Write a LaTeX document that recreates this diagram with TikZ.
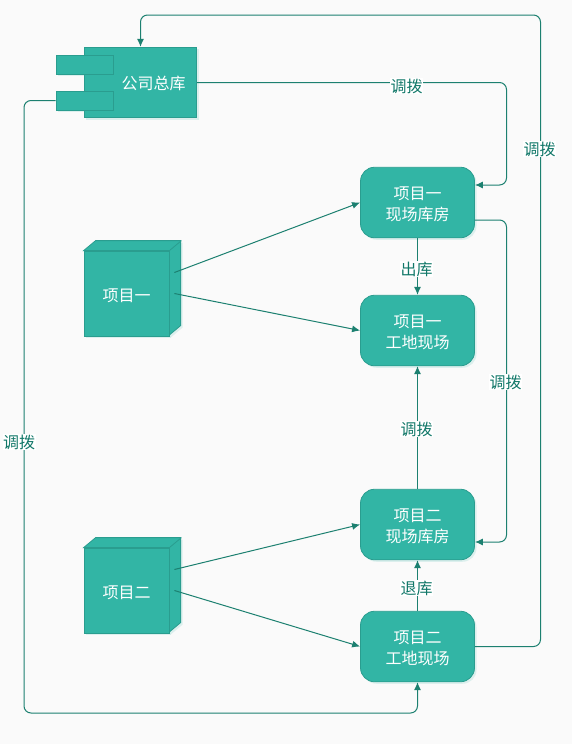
\documentclass[tikz,border=0pt]{standalone}
\usepackage{fontspec}
\setmainfont{Liberation Sans}
\newfontfamily\cjk{Noto Sans CJK SC}
\usepackage{xcolor}
\usetikzlibrary{arrows.meta,calc,shadows,backgrounds}
\definecolor{pagebg}{RGB}{250,250,250}
\definecolor{tealfill}{RGB}{50,181,165}
\definecolor{tealedge}{RGB}{42,157,143}
\definecolor{tealline}{RGB}{28,128,112}
\definecolor{tealtext}{RGB}{18,120,105}
\tikzset{
    tealbox/.style={draw=tealedge,fill=tealfill,line width=0.8pt,
        general shadow={fill=tealfill,opacity=0.15,shadow xshift=2pt,shadow yshift=-2pt},
        inner sep=0pt},
    boxtext/.style={label={[text=white,font=\cjk\fontsize{16}{21}\selectfont,align=center,inner sep=0pt,yshift=-2pt]center:#1}},
    roombox/.style={tealbox,rounded corners=14pt,minimum width=114pt,minimum height=70.5pt},
    cubebox/.style={tealbox,minimum width=85pt,minimum height=85pt},
    tabbox/.style={tealbox,minimum width=57pt,minimum height=19pt},
    link/.style={draw=tealline,line width=1pt,rounded corners=7pt,-{Latex[length=8pt,width=7pt]}},
    linklabel/.style={fill=white,text=tealtext,font=\cjk\fontsize{16}{18}\selectfont,inner sep=0.5pt}
}
\begin{document}
\begin{tikzpicture}[x=1pt,y=-1pt]
    \begin{scope}[on background layer]
        \fill[pagebg] (0,0) rectangle (572,744);
    \end{scope}

    \node[tealbox,minimum width=112.5pt,minimum height=70.5pt] (store) at (140.5,82.5) {};
    \node[text=white,font=\cjk\fontsize{16}{21}\selectfont,inner sep=0pt] (storetext) at (153.5,83) {公司总库};
    \node[tabbox] (tabone) at (84.5,64.5) {};
    \node[tabbox] (tabtwo) at (84.5,100.5) {};

    \node[cubebox,boxtext={项目一}] (cubeone) at (126.5,293.5) {};
    \node[cubebox,boxtext={项目二}] (cubetwo) at (126.5,590.5) {};
    \foreach \cubename in {cubeone,cubetwo}{
        \begin{scope}[on background layer]
            \draw[tealbox] (\cubename.north west) -- ++(12,-10) -- ++(85,0) -- ++(0,85) -- ++(-12,10)
                -- (\cubename.north east) -- cycle;
        \end{scope}
        \draw[draw=tealedge,line width=0.8pt] (\cubename.north east) -- ++(12,-10);
    }

    \node[roombox,boxtext={项目一\\现场库房}] (roomone) at (417.5,202.5) {};
    \node[roombox,boxtext={项目一\\工地现场}] (siteone) at (417.5,330.5) {};
    \node[roombox,boxtext={项目二\\现场库房}] (roomtwo) at (417.5,524.5) {};
    \node[roombox,boxtext={项目二\\工地现场}] (sitetwo) at (417.5,646.5) {};

    \draw[link] ([shift={(5pt,21pt)}]cubeone.east) -- (roomone.west);
    \draw[link] ([xshift=5pt]cubeone.east) -- (siteone.west);
    \draw[link] ([shift={(5pt,21pt)}]cubetwo.east) -- (roomtwo.west);
    \draw[link] ([xshift=5pt]cubetwo.east) -- (sitetwo.west);

    \draw[link] (roomone.south) -- (siteone.north);
    \draw[link] (roomtwo.north) -- (siteone.south);
    \draw[link] (sitetwo.north) -- (roomtwo.south);

    \draw[link] (store.east) -- (506.5,82.5) -- (506.5,185) -- ([yshift=17.5pt]roomone.east);
    \draw[link] ([yshift=-17.5pt]roomone.east) -- (506.5,220) -- (506.5,542) -- ([yshift=-17.5pt]roomtwo.east);
    \draw[link] (sitetwo.east) -- (540.5,646.5) -- (540.5,15) -- (140.5,15) -- (store.north);
    \draw[link] (tabtwo.west) -- (24,100.5) -- (24,713) -- (417.5,713) -- (sitetwo.south);

    \node[linklabel] (lblstore) at (406.5,86) {调拨};
    \node[linklabel] (lblback) at (539.5,149) {调拨};
    \node[linklabel] (lblside) at (505.5,382) {调拨};
    \node[linklabel] (lblleft) at (19,442) {调拨};
    \node[linklabel] (lblout) at (416.5,269) {出库};
    \node[linklabel] (lblmove) at (416.5,429) {调拨};
    \node[linklabel] (lblret) at (416.5,588) {退库};
\end{tikzpicture}
\end{document}
